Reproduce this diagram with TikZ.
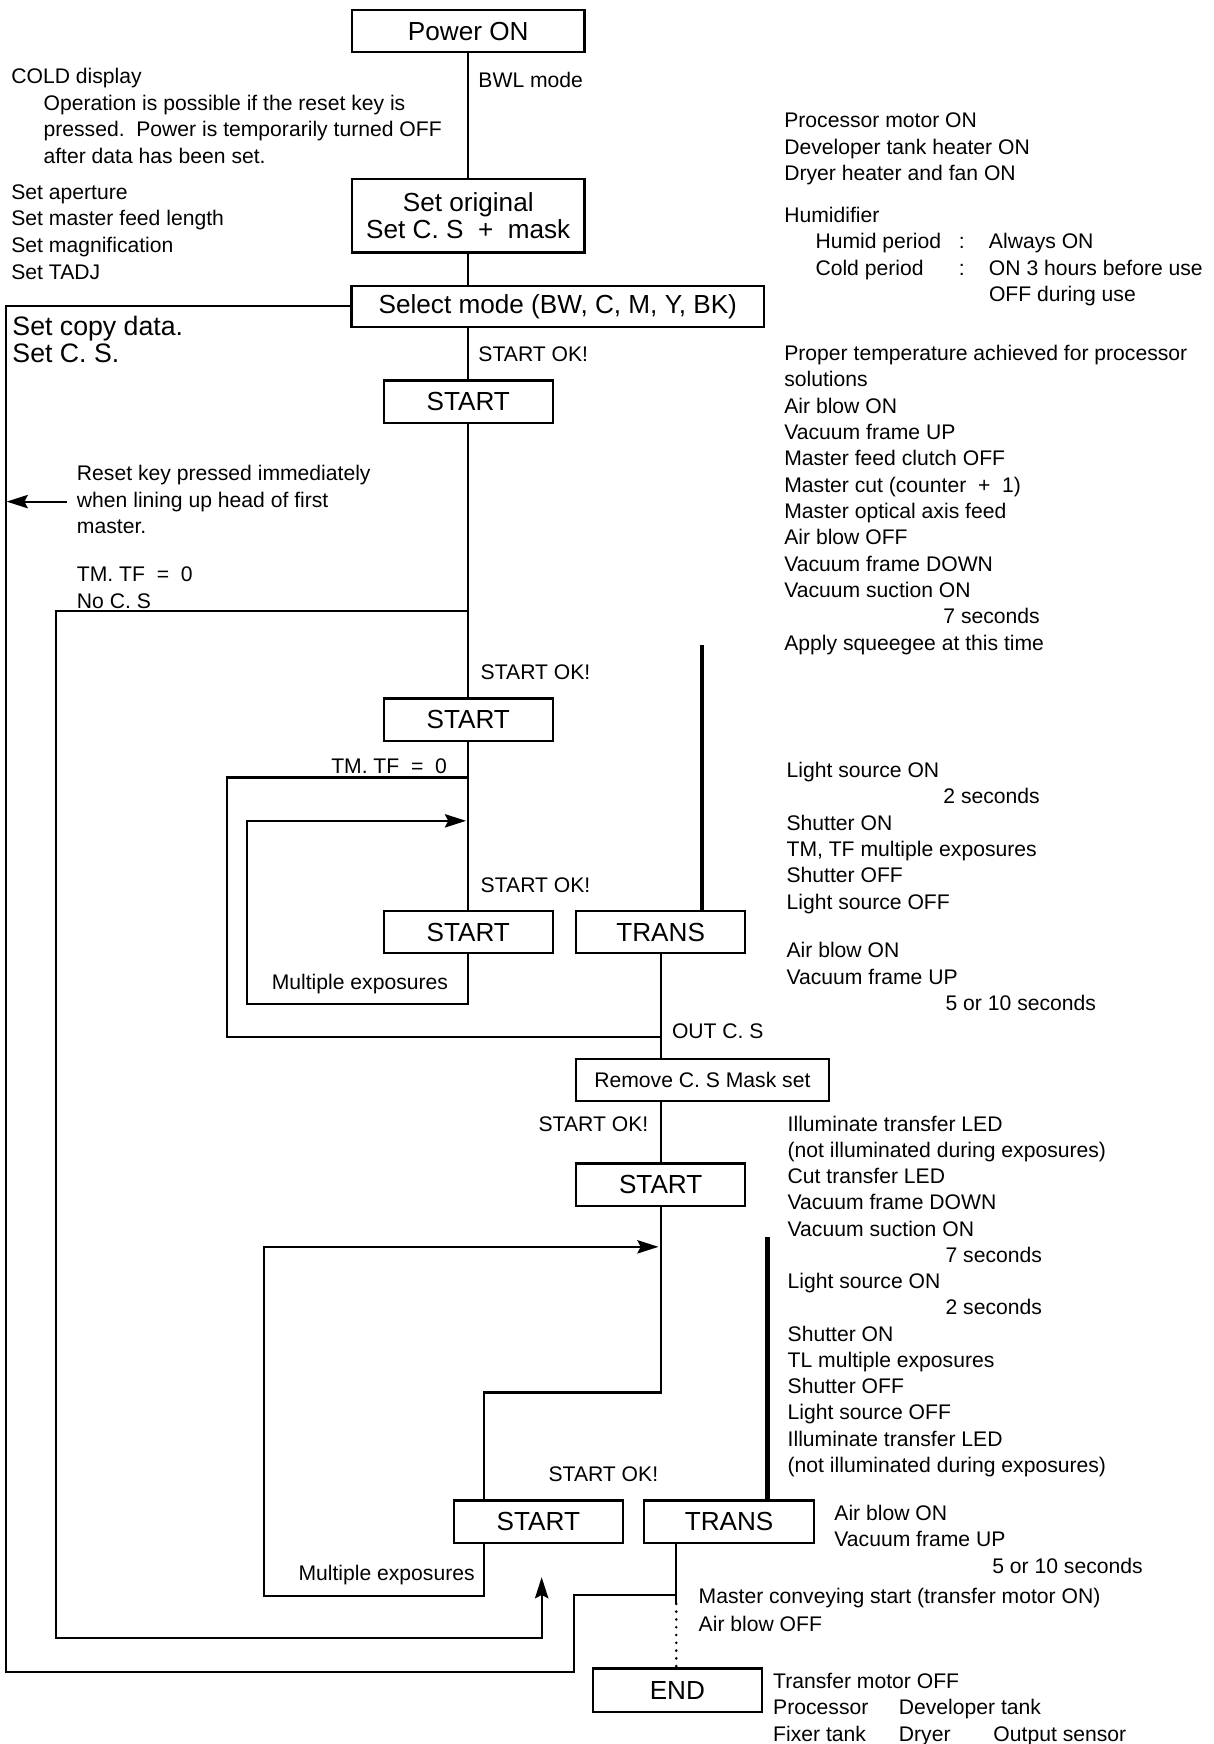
\documentclass[tikz,border=0pt]{standalone}
\usepackage{fontspec}
\setmainfont{Liberation Sans}
\usetikzlibrary{arrows.meta}
\newcommand\txtlines[5][23.7]{%
  \foreach \t [count=\i from 0] in {#5}
    \node[lbl] (#2\i) at (#3, {#4+#1*\i}) {\t};}
\begin{document}
\begin{tikzpicture}[x=1pt,y=-1pt,
  box/.style={draw, line width=2pt, inner sep=0pt, minimum height=38pt,
    font=\fontsize{23.5}{24}\selectfont, align=center},
  lbl/.style={inner sep=0pt, anchor=base west, font=\fontsize{19}{23.7}\selectfont},
  ln/.style={line width=1.9pt},
  bar/.style={line width=4pt},
  dotline/.style={line width=2.6pt, line cap=round, dash pattern=on 0pt off 7pt},
  arr/.style={-{Stealth[length=19pt,width=12pt,inset=3pt]}}
]
\useasboundingbox (0,0) rectangle (1091,1568);

% ---- boxes ----
\node[box, minimum width=209pt] (pwr) at (421,28) {Power ON};
\node[box, minimum width=209pt, minimum height=66pt] (orig) at (421,194) {Set original\\Set C. S\ \ +\ \ mask};
\node[box, minimum width=371pt, minimum height=37pt] (sel) at (501.5,275.5) {Select mode (BW, C, M, Y, BK)};
\node[box, minimum width=152pt] (s1) at (421,361) {START};
\node[box, minimum width=152pt] (s2) at (421,647) {START};
\node[box, minimum width=152pt] (s3) at (421,838) {START};
\node[box, minimum width=152pt] (t1) at (594,838) {TRANS};
\node[box, minimum width=227pt, font=\fontsize{19}{23.7}\selectfont] (rm) at (631.5,971) {Remove C. S Mask set};
\node[box, minimum width=152pt] (s4) at (594,1065) {START};
\node[box, minimum width=152pt] (s5) at (484,1368) {START};
\node[box, minimum width=153pt] (t2) at (655.5,1368) {TRANS};
\node[box, minimum width=152pt, minimum height=39pt] (en) at (609,1519.5) {END};

% ---- coordinates ----
\coordinate (j1) at (421,549);
\coordinate (j2) at (421,699);
\coordinate (a1) at (5,1503);
\coordinate (a2) at (516,1434);
\coordinate (tj) at (608,1434);
\coordinate (b1) at (50,1473);
\coordinate (b2) at (487,1418);
\coordinate (c1) at (204,932);
\coordinate (tj1) at (594,932);
\coordinate (bar1) at (631,580);
\coordinate (m1) at (222,903);
\coordinate (m1t) at (419,738);
\coordinate (d1) at (435,1252);
\coordinate (e1) at (237,1435);
\coordinate (e2) at (592,1121);
\coordinate (bar2) at (690,1112);
\coordinate (tdown) at (608,1442);
\coordinate (r0) at (60,451);
\coordinate (r1) at (6,451);

% ---- connectors ----
\draw[ln] (pwr) -- (orig);
\draw[ln] (orig) -- (orig.south |- sel.north);
\draw[ln] (s1.north |- sel.south) -- (s1);
\draw[ln] (s1) -- (s2);
\draw[ln] (s2) -- (s3);
\draw[ln] (sel.west) -| (a1) -| (a2) -- (tj);
\draw[ln,arr] (j1) -| (b1) -| (b2);
\draw[ln] (j2) -| (c1) -- (tj1);
\draw[ln] (t1) -- (t1.south |- rm.north);
\draw[bar] (bar1) -- (bar1 |- t1.north);
\draw[ln,arr] (s3.south) |- (m1) |- (m1t);
\draw[ln] (s4.north |- rm.south) -- (s4);
\draw[ln] (s4) |- (d1) -- (d1 |- s5.north);
\draw[ln,arr] (d1 |- s5.south) |- (e1) |- (e2);
\draw[bar] (bar2) -- (bar2 |- t2.north);
\draw[ln] (tj |- t2.south) -- (tdown);
\draw[dotline] (tdown) -- (tdown |- en.north);
\draw[ln,arr] (r0) -- (r1);

% ---- left and flow labels ----
\txtlines{cold}{10}{75}{COLD display}
\txtlines[24]{oper}{39}{99}{Operation is possible if the reset key is,pressed.\ \ Power is temporarily turned OFF,after data has been set.}
\txtlines[24]{setl}{10}{179}{Set aperture,Set master feed length,Set magnification,Set TADJ}
\node[lbl, font=\fontsize{24}{24}\selectfont] (scd) at (11,302) {Set copy data.};
\node[lbl, font=\fontsize{24}{24}\selectfont] (scs) at (11,326) {Set C. S.};
\node[lbl] (bwl) at (430,79) {BWL mode};
\node[lbl] (ok1) at (430,325) {START OK!};
\txtlines[24]{rst}{69}{432}{Reset key pressed immediately,when lining up head of first,master.}
\txtlines[24]{tmf}{69}{523}{TM. TF\ \ =\ \ 0,No C. S}
\node[lbl] (ok2) at (432,611) {START OK!};
\node[lbl, anchor=base east] (tmf2) at (402,695) {TM. TF\ \ =\ \ 0};
\node[lbl] (ok3) at (432,802) {START OK!};
\node[lbl, anchor=base east] (mul1) at (403,890) {Multiple exposures};
\node[lbl] (outcs) at (604,934) {OUT C. S};
\node[lbl, anchor=base east] (ok4) at (583,1017) {START OK!};
\node[lbl] (ok5) at (493,1332) {START OK!};
\node[lbl, anchor=base east] (mul2) at (427,1421) {Multiple exposures};

% ---- right column ----
\txtlines{ra}{705}{115}{Processor motor ON,Developer tank heater ON,Dryer heater and fan ON}
\txtlines{rb}{705}{200}{Humidifier,\hspace*{28pt}\makebox[129pt][l]{Humid period}\makebox[27pt][l]{:}Always ON,\hspace*{28pt}\makebox[129pt][l]{Cold period}\makebox[27pt][l]{:}ON 3 hours before use,\hspace*{184pt}OFF during use}
\txtlines{rc}{705}{324}{Proper temperature achieved for processor,solutions,Air blow ON,Vacuum frame UP,Master feed clutch OFF,Master cut (counter\ \ +\ \ 1),Master optical axis feed,Air blow OFF,Vacuum frame DOWN,Vacuum suction ON,\hspace*{143pt}7 seconds,Apply squeegee at this time}
\txtlines{rd}{707}{699}{Light source ON,\hspace*{141pt}2 seconds,Shutter ON,{TM, TF multiple exposures},Shutter OFF,Light source OFF}
\txtlines{re}{707}{861}{Air blow ON,Vacuum frame UP,\hspace*{143pt}5 or 10 seconds}
\txtlines[23.6]{rf}{708}{1017}{Illuminate transfer LED,(not illuminated during exposures),Cut transfer LED,Vacuum frame DOWN,Vacuum suction ON,\hspace*{142pt}7 seconds,Light source ON,\hspace*{142pt}2 seconds,Shutter ON,TL multiple exposures,Shutter OFF,Light source OFF,Illuminate transfer LED,(not illuminated during exposures)}
\txtlines{rg}{750}{1367}{Air blow ON,Vacuum frame UP,\hspace*{142pt}5 or 10 seconds}
\txtlines[25]{rh}{628}{1442}{Master conveying start (transfer motor ON),Air blow OFF}
\txtlines{ri}{695}{1518}{Transfer motor OFF,\makebox[113pt][l]{Processor}Developer tank,\makebox[113pt][l]{Fixer tank}\makebox[85pt][l]{Dryer}Output sensor}
\end{tikzpicture}
\end{document}
